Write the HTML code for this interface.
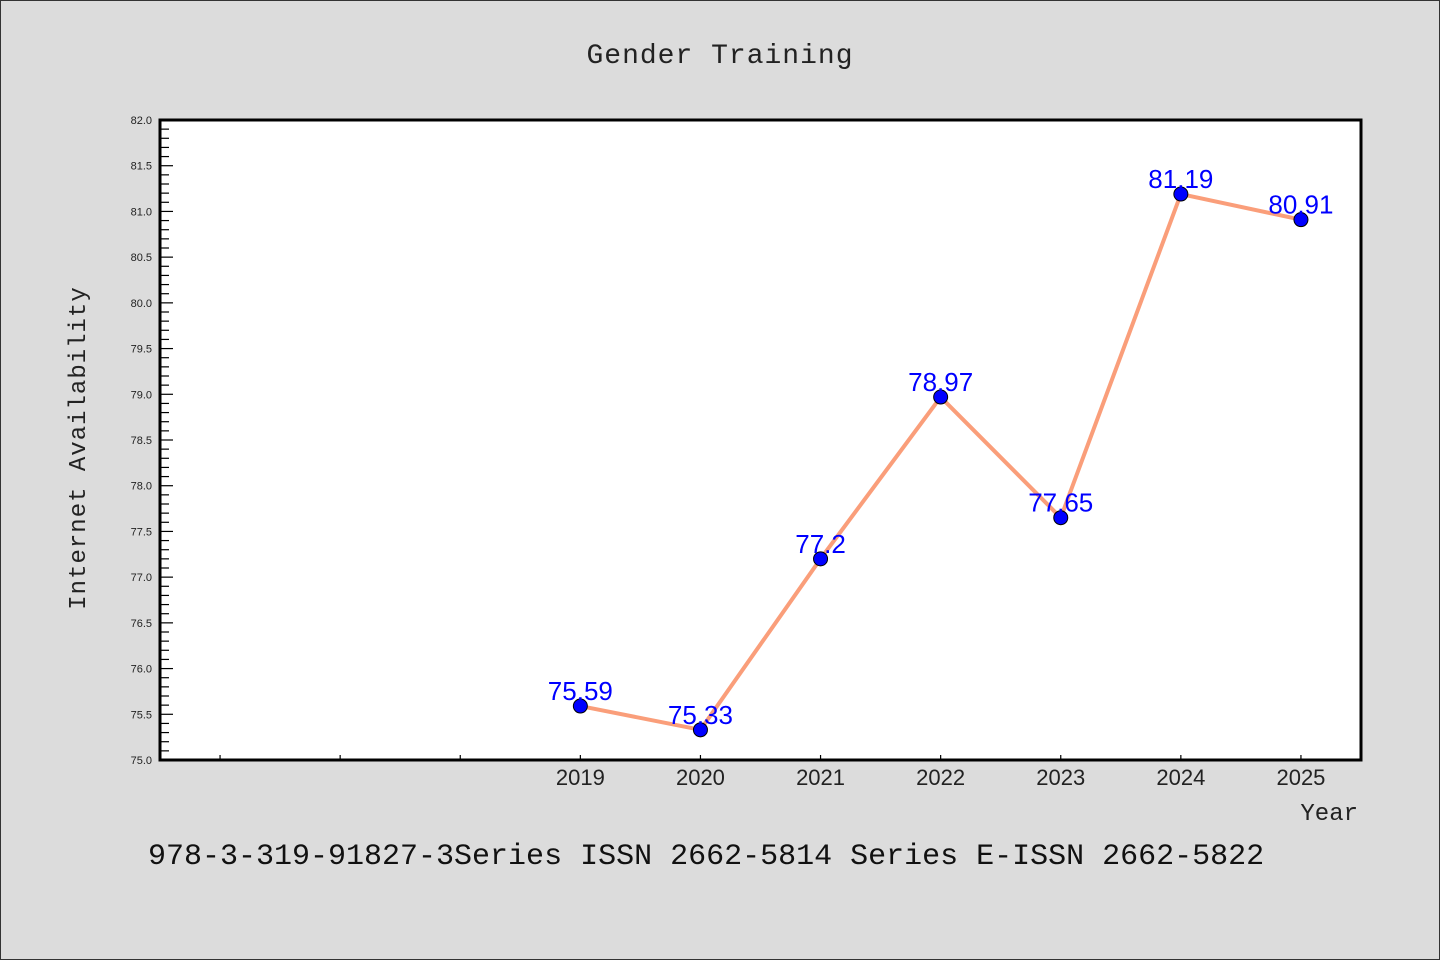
<!DOCTYPE html>
<html><head><meta charset="utf-8"><style>
body{margin:0;background:#dcdcdc}
svg{display:block}
text{font-family:"Liberation Sans","DejaVu Sans",sans-serif}
.mono{font-family:"Liberation Mono","DejaVu Sans Mono",monospace}
</style></head><body>
<svg id="chart" width="1440" height="960" xmlns="http://www.w3.org/2000/svg">
<rect x="0.5" y="0.5" width="1439" height="959" fill="#dcdcdc" stroke="#333"/>
<text x="720" y="63" text-anchor="middle" font-size="28" fill="#222" class="mono" letter-spacing="1">Gender Training</text>
<rect x="160" y="120" width="1201" height="640" fill="#fff" stroke="#000" stroke-width="3"/>
<g id="yaxis"></g>
<g id="xaxis"></g>
<g id="series"></g>
<text transform="translate(85,448) rotate(-90)" text-anchor="middle" font-size="24" fill="#222" class="mono" letter-spacing="1">Internet Availability</text>
<text x="1358" y="820" text-anchor="end" font-size="24" fill="#222" class="mono">Year</text>
<text x="148" y="864" font-size="30" fill="#111" class="mono">978-3-319-91827-3Series ISSN 2662-5814 Series E-ISSN 2662-5822</text>
</svg>
<script>
const years=[2019,2020,2021,2022,2023,2024,2025];
const values=[75.59,75.33,77.2,78.97,77.65,81.19,80.91];
const valueLabels=["75.59","75.33","77.2","78.97","77.65","81.19","80.91"];
const yTicks=["75.0","75.5","76.0","76.5","77.0","77.5","78.0","78.5","79.0","79.5","80.0","80.5","81.0","81.5","82.0"];
const xTickYears=[2016,2017,2018,2019,2020,2021,2022,2023,2024,2025];
const NS="http://www.w3.org/2000/svg";
const yMin=75,yMax=82,plotTop=120,plotBot=760,plotLeft=160,plotRight=1361,xMin=2015.5,xMax=2025.5;
const ys=v=>plotBot-(v-yMin)/(yMax-yMin)*(plotBot-plotTop);
const xs=v=>plotLeft+(v-xMin)/(xMax-xMin)*(plotRight-plotLeft);
function mk(tag,attrs,parent){const e=document.createElementNS(NS,tag);for(const k in attrs)e.setAttribute(k,attrs[k]);parent.appendChild(e);return e;}
const ya=document.getElementById('yaxis');
for(let i=0;i<=70;i++){const v=yMin+i*0.1;const y=ys(v);const major=i%5===0;
 const t=mk('line',{x1:plotLeft,x2:plotLeft+(major?13:9),y1:y,y2:y,stroke:'#000','stroke-width':1.2},ya);
 
 }
yTicks.forEach(s=>{const y=ys(parseFloat(s));const t=mk('text',{x:152,y:y+4,'text-anchor':'end','font-size':11,fill:'#222'},ya);t.textContent=s;
 
 });
const xa=document.getElementById('xaxis');
xTickYears.forEach(yr=>{const x=xs(yr);const t=mk('line',{x1:x,x2:x,y1:plotBot,y2:plotBot-5,stroke:'#000','stroke-width':1.2},xa);
 
 
 if(years.includes(yr)){const l=mk('text',{x:x,y:785,'text-anchor':'middle','font-size':22,fill:'#222'},xa);l.textContent=yr;
 
 }});
const sg=document.getElementById('series');
const pl=mk('polyline',{points:years.map((y,i)=>xs(y)+','+ys(values[i])).join(' '),fill:'none',stroke:'#fa9e7a','stroke-width':4},sg);


years.forEach((y,i)=>{const c=mk('circle',{cx:xs(y),cy:ys(values[i]),r:7,fill:'#0000ff',stroke:'#000','stroke-width':1},sg);
 
 
 const l=mk('text',{x:xs(y),y:ys(values[i])-6,'text-anchor':'middle','font-size':26,fill:'#0000ff'},sg);l.textContent=valueLabels[i];
 
 });
</script>
</body></html>
